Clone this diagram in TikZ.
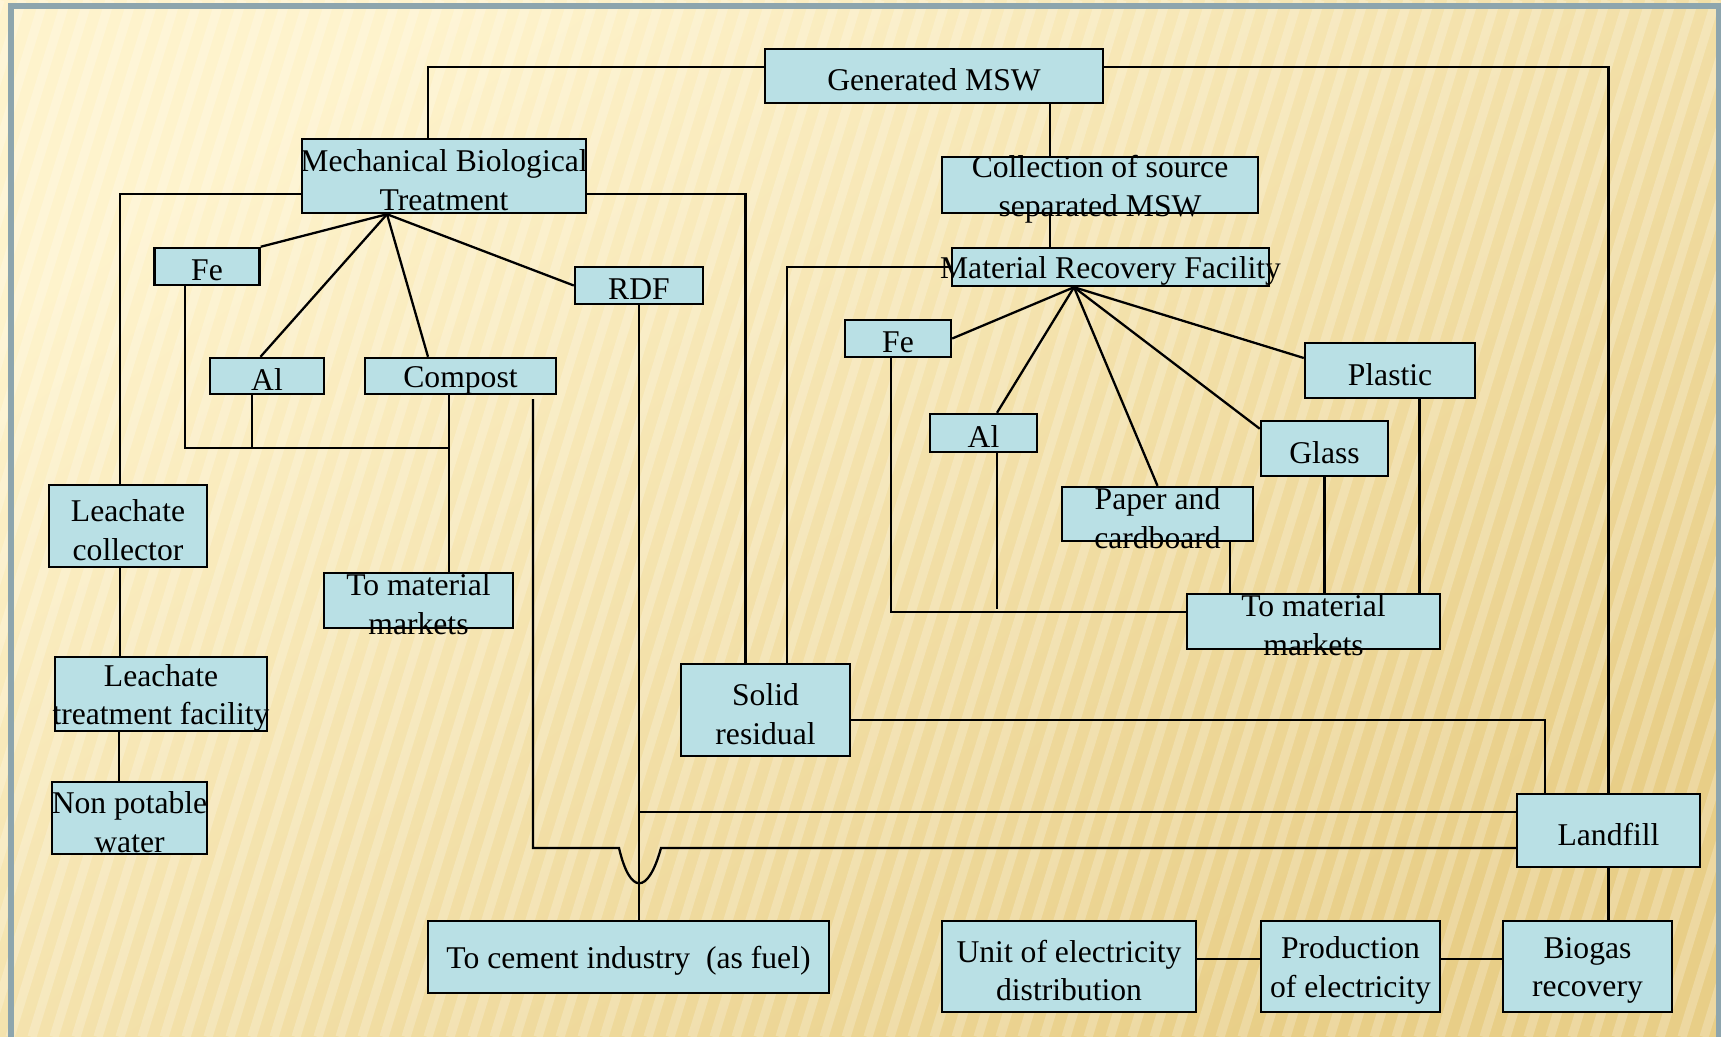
\documentclass[tikz,border=0pt]{standalone}
\usepackage{fontspec}
\setmainfont{Liberation Serif}
\definecolor{boxblue}{HTML}{B9E0E5}
\definecolor{creamtop}{HTML}{FEF3CC}
\definecolor{goldbot}{HTML}{E8CE87}
\definecolor{framegray}{HTML}{8DA5AD}

\begin{document}
\begin{tikzpicture}[
  x=1cm,y=1cm,
  box/.style={draw=black,line width=0.7pt,fill=boxblue,inner sep=0pt},
  txt/.style={align=center,inner sep=0pt,yshift=-0.04cm,font=\fontsize{9}{11}\selectfont},
  conn/.style={draw=black,line width=0.65pt},
  stripe/.style={white,opacity=0.22,line width=2.6pt}
]
\useasboundingbox (0,0) rectangle (17.21,-10.37);
% slide background
\shade[top color=creamtop,bottom color=goldbot,shading angle=35] (0,0) rectangle (17.21,-10.37);
\begin{scope}
  \clip (0,0) rectangle (17.21,-10.37);
  \foreach \s in {0,0.22,...,21} \draw[stripe] (\s-3.2,-10.37) -- (\s,0);
\end{scope}
\draw[framegray,line width=0.055cm] (0.11,-10.6) -- (0.11,-0.06) -- (17.19,-0.06) -- (17.19,-10.6);

% boxes
\node[box,minimum width=3.38cm,minimum height=0.54cm,label={[txt]center:Generated MSW}] (gen) at (9.34,-0.76) {};
\node[box,minimum width=2.84cm,minimum height=0.74cm,label={[txt]center:{Mechanical Biological\\Treatment}}] (mbt) at (4.44,-1.76) {};
\node[box,minimum width=1.05cm,minimum height=0.37cm,label={[txt]center:Fe}] (fe1) at (2.07,-2.665) {};
\node[box,minimum width=1.14cm,minimum height=0.36cm,label={[txt]center:Al}] (al1) at (2.67,-3.76) {};
\node[box,minimum width=1.91cm,minimum height=0.36cm,label={[txt]center:Compost}] (comp) at (4.605,-3.76) {};
\node[box,minimum width=1.28cm,minimum height=0.37cm,label={[txt]center:RDF}] (rdf) at (6.39,-2.855) {};
\node[box,minimum width=1.89cm,minimum height=0.55cm,label={[txt]center:{To material\\markets}}] (mkt1) at (4.185,-6.005) {};
\node[box,minimum width=1.58cm,minimum height=0.82cm,label={[txt]center:{Leachate\\collector}}] (lcol) at (1.28,-5.26) {};
\node[box,minimum width=2.12cm,minimum height=0.74cm,label={[txt]center:{Leachate\\treatment facility}}] (ltf) at (1.61,-6.94) {};
\node[box,minimum width=1.55cm,minimum height=0.72cm,label={[txt]center:{Non potable\\water}}] (npw) at (1.295,-8.18) {};
\node[box,minimum width=4.01cm,minimum height=0.72cm,label={[txt]center:{To cement industry~ (as fuel)}}] (cem) at (6.285,-9.57) {};
\node[box,minimum width=1.69cm,minimum height=0.92cm,label={[txt]center:{Solid\\residual}}] (solid) at (7.655,-7.10) {};
\node[box,minimum width=3.16cm,minimum height=0.56cm,label={[txt]center:{Collection of source\\separated MSW}}] (coll) at (11.00,-1.85) {};
\node[box,minimum width=3.17cm,minimum height=0.38cm,label={[txt]center:Material Recovery Facility}] (mrf) at (11.105,-2.67) {};
\node[box,minimum width=1.06cm,minimum height=0.37cm,label={[txt]center:Fe}] (fe2) at (8.98,-3.385) {};
\node[box,minimum width=1.07cm,minimum height=0.38cm,label={[txt]center:Al}] (al2) at (9.835,-4.33) {};
\node[box,minimum width=1.91cm,minimum height=0.54cm,label={[txt]center:{Paper and\\cardboard}}] (paper) at (11.575,-5.14) {};
\node[box,minimum width=1.27cm,minimum height=0.55cm,label={[txt]center:Glass}] (glass) at (13.245,-4.485) {};
\node[box,minimum width=1.70cm,minimum height=0.55cm,label={[txt]center:Plastic}] (plastic) at (13.90,-3.705) {};
\node[box,minimum width=2.53cm,minimum height=0.55cm,label={[txt]center:{To material\\markets}}] (mkt2) at (13.135,-6.215) {};
\node[box,minimum width=1.83cm,minimum height=0.73cm,label={[txt]center:Landfill}] (land) at (16.085,-8.305) {};
\node[box,minimum width=1.69cm,minimum height=0.91cm,label={[txt]center:{Biogas\\recovery}}] (bio) at (15.875,-9.665) {};
\node[box,minimum width=1.79cm,minimum height=0.91cm,label={[txt]center:{Production\\of electricity}}] (prod) at (13.505,-9.665) {};
\node[box,minimum width=2.54cm,minimum height=0.91cm,label={[txt]center:{Unit of electricity\\distribution}}] (unit) at (10.69,-9.665) {};

% helper points
\coordinate (stem) at (10.50,0);
\coordinate (mix1) at (4.49,-4.48);
\coordinate (mix2) at (9.97,-6.09);
\coordinate (fan1) at ([xshift=-0.57cm]mbt.south);
\coordinate (fan2) at ([xshift=-0.365cm]mrf.south);

% top level
\draw[conn] ([yshift=0.09cm]gen.west) -| ([xshift=-0.16cm]mbt.north);
\draw[conn] ([yshift=0.09cm]gen.east) -| (land.north);
\draw[conn] (gen.south -| stem) -- (coll.north -| stem);
\draw[conn] (coll.south -| stem) -- (mrf.north -| stem);

% MBT branch
\draw[conn] ([yshift=-0.18cm]mbt.west) -| ([xshift=-0.08cm]lcol.north);
\draw[conn] ([yshift=-0.18cm]mbt.east) -| ([xshift=-0.2cm]solid.north);
\foreach \t in {fe1.north east,rdf.west} \draw[conn] (fan1) -- (\t);
\draw[conn] (fan1) -- ([xshift=-0.065cm]al1.north);
\draw[conn] (fan1) -- ([xshift=-0.325cm]comp.north);
\draw[conn] ([xshift=-0.22cm]fe1.south) |- (mix1);
\draw[conn] ([xshift=-0.15cm]al1.south) -- ([xshift=-0.15cm]al1.south |- mix1);
\draw[conn] (comp.south -| mix1) -- (mkt1.north -| mix1);
\draw[conn] (rdf.south) -- (rdf.south |- cem.north);
\draw[conn] ([yshift=0.185cm]land.west) -- ([yshift=0.185cm]land.west -| rdf.south);
\draw[conn] ([shift={(0.725,-0.04)}]comp.south) |- (6.19,-8.48)
  .. controls (6.30,-8.95) and (6.48,-8.95) .. (6.61,-8.48) -- ([yshift=-0.175cm]land.west);

% leachate
\draw[conn] ([xshift=-0.08cm]lcol.south) -- ([xshift=-0.08cm]lcol.south |- ltf.north);
\draw[conn] ([xshift=-0.42cm]ltf.south) -- ([xshift=-0.42cm]ltf.south |- npw.north);

% MRF branch
\draw[conn] (mrf.west) -| ([xshift=0.215cm]solid.north);
\foreach \t in {fe2.east,paper.north} \draw[conn] (fan2) -- (\t);
\draw[conn] (fan2) -- ([xshift=0.135cm]al2.north);
\draw[conn] (fan2) -- ([yshift=-0.09cm]glass.north west);
\draw[conn] (fan2) -- ([yshift=0.125cm]plastic.west);
\draw[conn] ([xshift=-0.07cm]fe2.south) |- ([yshift=0.095cm]mkt2.west);
\draw[conn] ([xshift=0.135cm]al2.south) -- (mix2);
\draw[conn] ([xshift=0.725cm]paper.south) -- ([xshift=0.725cm]paper.south |- mkt2.north);
\draw[conn] (glass.south) -- (glass.south |- mkt2.north);
\draw[conn] ([xshift=0.295cm]plastic.south) -- ([xshift=0.295cm]plastic.south |- mkt2.north);

% landfill and energy
\draw[conn] ([yshift=-0.1cm]solid.east) -| ([xshift=-0.635cm]land.north);
\draw[conn] (land.south) -- (land.south |- bio.north);
\draw[conn] ([yshift=0.075cm]unit.east) -- ([yshift=0.075cm]prod.west);
\draw[conn] ([yshift=0.075cm]prod.east) -- ([yshift=0.075cm]bio.west);
\end{tikzpicture}
\end{document}
